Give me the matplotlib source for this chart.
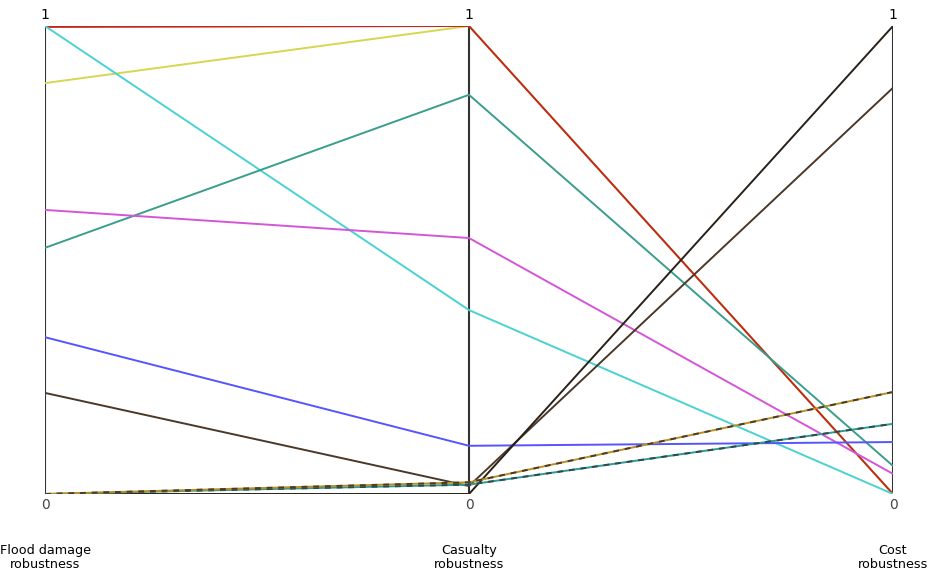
"""Parallel-coordinates view of robustness scores across three objectives."""

import matplotlib

matplotlib.use("Agg")
import matplotlib.pyplot as plt
from matplotlib.transforms import blended_transform_factory

AXES = ["Flood damage\nrobustness", "Casualty\nrobustness", "Cost\nrobustness"]

# one list per solution: [flood, casualty, cost]
yellow = [0.878, 1.0, 0.0]
red = [0.998, 1.0, 0.0]
cyan = [1.0, 0.393, 0.0]
teal = [0.526, 0.853, 0.06]
magenta = [0.607, 0.547, 0.043]
blue = [0.335, 0.103, 0.111]
brown = [0.216, 0.017, 0.868]
black = [0.0, 0.0, 1.0]
dark_teal = [0.0, 0.02, 0.15]
gold = [0.0, 0.025, 0.218]

SERIES = [
    (yellow, "#d6d650", None),
    (red, "#c0281e", None),
    (cyan, "#4ad2d2", None),
    (teal, "#3a9e8c", None),
    (magenta, "#d455d8", None),
    (blue, "#5555ff", None),
    (brown, "#4a3828", None),
    (black, "#2a2018", None),
    (dark_teal, "#2e9a96", "#2f4848"),
    (gold, "#b89024", "#4a3a28"),
]


def main() -> None:
    fig = plt.figure(figsize=(9.34, 5.76), dpi=100)
    ax = fig.add_axes([45 / 934, 82 / 576, 848 / 934, 468 / 576])
    xs = list(range(len(AXES)))

    for vals, color, over in SERIES:
        ax.plot(xs, vals, color=color, linewidth=1.4, solid_capstyle="butt")
        if over:
            ax.plot(xs, vals, color=over, linewidth=1.4, linestyle=(0, (3, 3)))

    for x in xs:
        ax.axvline(x, color="#333333", linewidth=1.5, zorder=0)

    ax.set_xlim(0, len(AXES) - 1)
    ax.set_ylim(0, 1)
    ax.axis("off")

    trans = blended_transform_factory(ax.transData, fig.transFigure)
    for x, name in zip(xs, AXES):
        ax.text(x, 1 - 15 / 576, "1", ha="center", va="center", fontsize=10,
                transform=trans, clip_on=False)
        ax.text(x, 1 - 505 / 576, "0", ha="center", va="center", fontsize=10,
                color="#444444", transform=trans, clip_on=False)
        ax.text(x, 1 - 544 / 576, name, ha="center", va="top", fontsize=9.2,
                linespacing=1.1, transform=trans, clip_on=False)

    fig.savefig("out.png", dpi=100)


if __name__ == "__main__":
    main()
